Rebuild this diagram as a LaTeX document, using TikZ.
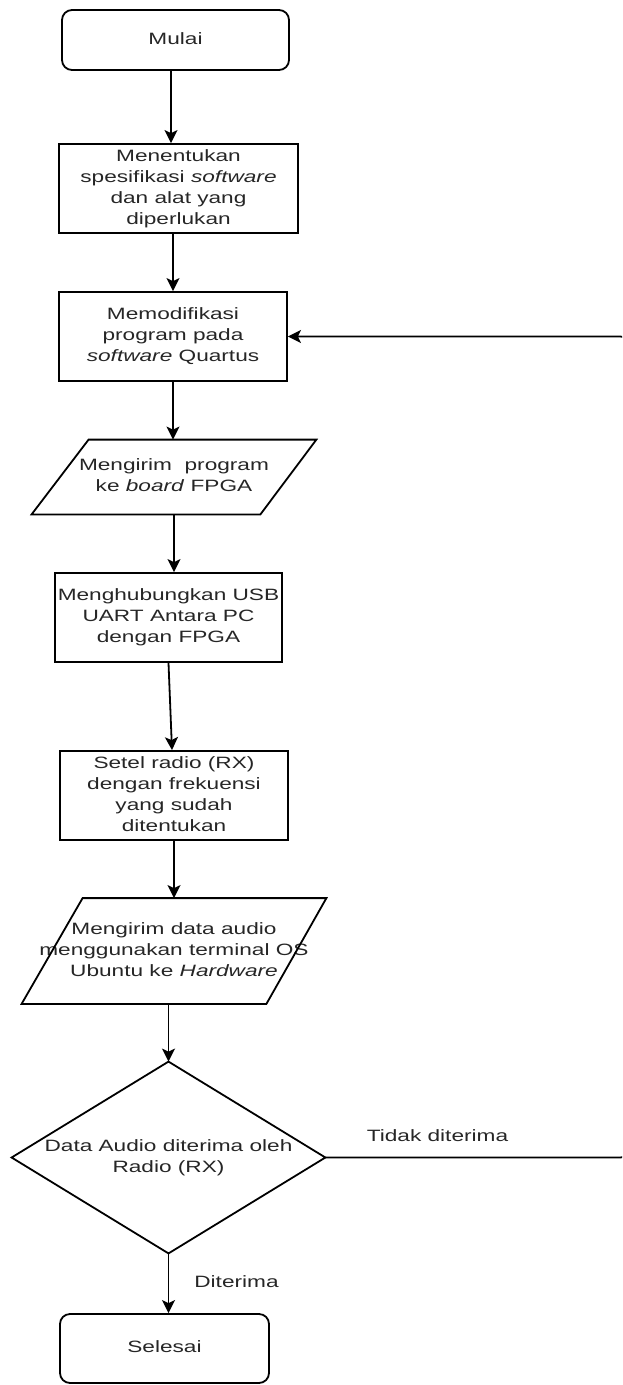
\documentclass[tikz,border=0pt]{standalone}
\usepackage{fontspec}
\usepackage{graphicx}
\setmainfont{Liberation Sans}
\usetikzlibrary{arrows.meta}
\newcommand{\tx}[1]{\scalebox{1.38}[1]{\begin{tabular}{@{}c@{}}#1\end{tabular}}}
\tikzset{
  base/.style={inner sep=0pt, font=\fontsize{8.2}{10.5}\selectfont, text=black!85},
  procbox/.style={base, draw, line width=0.9pt},
  termbox/.style={procbox, rounded corners=5pt},
  frame/.style={base, draw=none},
  outline/.style={draw, line width=0.9pt},
  arr/.style={line width=0.9pt, -{Stealth[length=6.5pt,width=6.5pt,inset=1.5pt]}},
  lbl/.style={base}
}
\begin{document}
\begin{tikzpicture}[x=0.5pt,y=-0.5pt]
\useasboundingbox (0,0) rectangle (622,1385);
\clip (0,0) rectangle (622,1385);
\node[termbox, minimum width=113.5pt, minimum height=30pt] (mulai) at (175.5,40) {\tx{Mulai}};
\node[procbox, minimum width=119.5pt, minimum height=44.5pt] (b1) at (178.5,188.5) {\tx{Menentukan\\spesifikasi \textit{software}\\dan alat yang\\diperlukan}};
\node[procbox, minimum width=114pt, minimum height=44.5pt] (b2) at (173,336.5) {\tx{Memodifikasi\\program pada\\\textit{software} Quartus}};
\node[frame, minimum width=142pt, minimum height=37pt] (p1) at (174,477) {\tx{Mengirim~ program\\ke \textit{board} FPGA}};
\draw[outline] ([xshift=28.5pt]p1.north west) -- (p1.north east) -- ([xshift=-28pt]p1.south east) -- (p1.south west) -- cycle;
\node[procbox, minimum width=113.5pt, minimum height=44.5pt] (b3) at (168.5,617.5) {\tx{Menghubungkan USB\\UART Antara PC\\dengan FPGA}};
\node[procbox, minimum width=114pt, minimum height=44.5pt] (b4) at (174,795.5) {\tx{Setel radio (RX)\\dengan frekuensi\\yang sudah\\ditentukan}};
\node[frame, minimum width=152pt, minimum height=52.5pt] (p2) at (174,951) {\tx{Mengirim data audio\\menggunakan terminal OS\\Ubuntu ke \textit{Hardware}}};
\draw[outline] ([xshift=30.5pt]p2.north west) -- (p2.north east) -- ([xshift=-30pt]p2.south east) -- (p2.south west) -- cycle;
\node[frame, minimum width=156.5pt, minimum height=95.5pt] (d) at (168.5,1157.5) {\tx{Data Audio diterima oleh\\Radio (RX)}};
\draw[outline] (d.north) -- (d.east) -- (d.south) -- (d.west) -- cycle;
\node[termbox, minimum width=104.5pt, minimum height=34.5pt] (sel) at (164.5,1348.5) {\tx{Selesai}};
\node[lbl] (ltidak) at (437.5,1137) {\tx{Tidak diterima}};
\node[lbl] (lditerima) at (236.5,1283) {\tx{Diterima}};
\draw[arr] ([xshift=-2.25pt]mulai.south) -- ([xshift=-2.25pt]mulai.south |- b1.north);
\draw[arr] ([xshift=-2.75pt]b1.south) -- ([xshift=-2.75pt]b1.south |- b2.north);
\draw[arr] (b2.south) -- (b2.south |- p1.north);
\draw[arr] (p1.south) -- (p1.south |- b3.north);
\draw[arr] (b3.south) -- ([xshift=-1pt]b4.north);
\draw[arr] (b4.south) -- (b4.south |- p2.north);
\draw[arr] (d.north |- p2.south) -- (d.north);
\draw[arr] (d.south) -- (d.south |- sel.north);
\draw[arr, rounded corners=5pt] (d.east) -- ++(305,0) |- (b2.east);
\end{tikzpicture}
\end{document}
